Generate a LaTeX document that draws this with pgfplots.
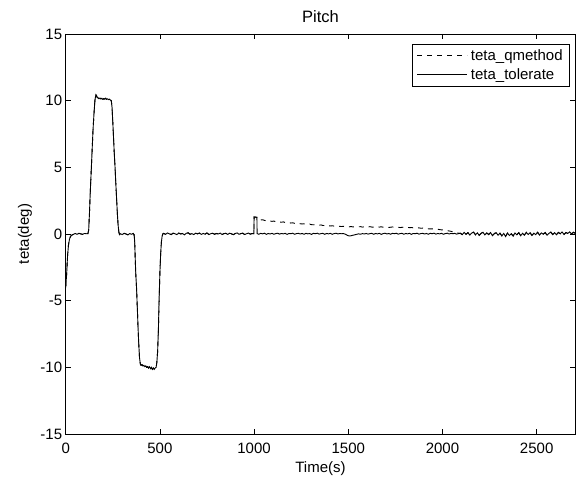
\documentclass[border=0pt]{standalone}
\usepackage{fontspec}
\setmainfont{Liberation Sans}
\usepackage{pgfplots}
\usepackage{pgfplotstable}
\pgfplotsset{compat=1.18}

\pgfplotstableread{
t tol qm
0 -4.0 -4.0
5 -3.0 -3.0
10 -1.6 -1.6
15 -0.8 -0.8
20 -0.4 -0.4
25 -0.2 -0.2
30 -0.1 -0.1
40 -0.03 -0.03
50 0.04 0.04
60 -0.02 -0.02
70 0.05 0.05
80 0.01 0.01
90 -0.03 -0.03
100 0.04 0.04
110 0.02 0.02
118 0.03 0.03
122 0.3 0.3
126 1.5 1.5
130 3.0 3.0
135 4.6 4.6
140 6.2 6.2
145 7.8 7.8
150 9.0 9.0
155 10.0 10.0
160 10.45 10.45
163 10.4 10.4
167 10.25 10.25
172 10.2 10.2
177 10.15 10.15
182 10.2 10.2
187 10.12 10.12
192 10.18 10.18
197 10.1 10.1
202 10.15 10.15
207 10.12 10.12
212 10.18 10.18
217 10.1 10.1
222 10.14 10.14
227 10.08 10.08
232 10.12 10.12
237 10.05 10.05
242 10.0 10.0
246 9.5 9.5
250 8.4 8.4
254 7.2 7.2
258 6.0 6.0
262 5.0 5.0
266 3.8 3.8
270 2.7 2.7
274 1.6 1.6
278 0.7 0.7
282 0.15 0.15
286 -0.05 -0.05
290 0.02 0.02
300 -0.04 -0.04
310 0.05 0.05
320 0.0 0.0
330 -0.06 -0.06
340 0.03 0.03
350 -0.02 -0.02
358 0.04 0.04
363 -0.05 -0.05
366 -0.5 -0.5
369 -1.8 -1.8
372 -3.0 -3.0
376 -4.0 -4.0
380 -5.5 -5.5
384 -7.0 -7.0
388 -8.3 -8.3
392 -9.3 -9.3
396 -9.75 -9.75
400 -9.85 -9.85
405 -9.8 -9.8
410 -9.9 -9.9
415 -9.85 -9.85
420 -9.95 -9.95
425 -9.9 -9.9
430 -10.0 -10.0
435 -9.95 -9.95
440 -10.05 -10.05
445 -9.95 -9.95
450 -10.1 -10.1
455 -10.0 -10.0
460 -10.15 -10.15
465 -10.05 -10.05
470 -10.15 -10.15
475 -10.05 -10.05
480 -10.0 -10.0
484 -9.6 -9.6
488 -8.8 -8.8
492 -7.2 -7.2
496 -4.8 -4.8
500 -2.9 -2.9
504 -1.5 -1.5
508 -0.6 -0.6
512 -0.15 -0.15
516 0.02 0.02
520 0.05 0.05
530 -0.03 -0.03
540 0.08 0.08
550 0.01 0.01
560 -0.04 -0.04
570 0.06 0.06
580 0.02 0.02
590 -0.05 -0.05
600 0.07 0.07
610 0.0 0.0
620 0.04 0.04
630 -0.06 -0.06
640 0.05 0.05
650 0.09 0.09
660 -0.02 -0.02
670 0.03 0.03
680 -0.04 -0.04
690 0.06 0.06
700 0.01 0.01
710 0.07 0.07
720 -0.03 -0.03
730 0.04 0.04
740 -0.01 -0.01
750 0.08 0.08
760 -0.05 -0.05
770 0.02 0.02
780 0.06 0.06
790 -0.02 -0.02
800 0.04 0.04
810 0.0 0.0
820 0.07 0.07
830 -0.04 -0.04
840 0.03 0.03
850 0.05 0.05
860 -0.03 -0.03
870 0.06 0.06
880 0.01 0.01
890 -0.05 -0.05
900 0.04 0.04
910 0.08 0.08
920 -0.02 -0.02
930 0.03 0.03
940 0.06 0.06
950 -0.04 -0.04
960 0.02 0.02
970 0.07 0.07
980 -0.01 -0.01
990 0.04 0.04
999 0.02 0.02
1000 1.28 1.28
1015 1.25 1.25
1016 0.03 1.15
1025 -0.02 1.08
1035 0.05 1.05
1045 0.01 1.07
1055 0.06 1.02
1065 -0.03 1.0
1075 0.04 1.03
1085 0.0 0.97
1095 0.05 0.95
1105 -0.02 0.97
1115 0.03 0.92
1125 0.06 0.94
1135 -0.01 0.9
1145 0.04 0.88
1155 0.01 0.91
1165 0.05 0.86
1175 -0.03 0.85
1185 0.04 0.87
1195 0.02 0.82
1205 0.06 0.84
1215 -0.02 0.8
1225 0.03 0.79
1235 0.05 0.81
1245 0.0 0.77
1255 0.04 0.75
1265 -0.02 0.77
1275 0.05 0.73
1285 0.01 0.72
1295 0.04 0.74
1305 -0.03 0.7
1315 0.05 0.69
1325 0.02 0.71
1335 0.06 0.67
1345 -0.01 0.66
1355 0.03 0.68
1365 0.05 0.64
1375 -0.02 0.63
1385 0.04 0.65
1395 0.01 0.62
1405 0.05 0.6
1415 -0.02 0.62
1425 0.03 0.59
1435 0.06 0.58
1445 0.0 0.6
1455 0.04 0.57
1465 0.02 0.56
1475 0.03 0.58
1485 -0.02 0.55
1495 -0.1 0.56
1505 -0.15 0.54
1515 -0.13 0.56
1525 -0.09 0.53
1535 -0.06 0.55
1545 -0.02 0.52
1555 0.01 0.54
1565 -0.02 0.55
1575 0.03 0.52
1585 0.0 0.54
1595 0.04 0.51
1605 -0.01 0.53
1615 0.03 0.55
1625 0.05 0.52
1635 -0.02 0.51
1645 0.04 0.53
1655 0.01 0.5
1665 0.05 0.52
1675 -0.03 0.54
1685 0.03 0.51
1695 0.06 0.5
1705 0.0 0.52
1715 0.04 0.49
1725 -0.02 0.51
1735 0.05 0.53
1745 0.02 0.5
1755 0.06 0.49
1765 -0.01 0.51
1775 0.03 0.48
1785 0.05 0.5
1795 -0.02 0.52
1805 0.04 0.49
1815 0.01 0.5
1825 0.05 0.47
1835 -0.03 0.49
1845 0.04 0.46
1855 0.02 0.48
1865 0.06 0.45
1875 -0.01 0.46
1885 0.03 0.43
1895 0.05 0.44
1905 0.0 0.41
1915 0.04 0.42
1925 -0.02 0.39
1935 0.05 0.38
1945 0.02 0.39
1955 0.06 0.36
1965 -0.01 0.35
1975 0.04 0.36
1985 0.01 0.33
1995 0.05 0.31
2005 -0.02 0.3
2015 0.03 0.28
2025 0.06 0.25
2035 0.0 0.23
2045 0.04 0.2
2055 0.02 0.16
2065 0.05 0.13
2075 -0.01 0.1
2085 0.03 0.06
2095 0.06 0.06
2105 -0.05 -0.05
2115 0.12 0.12
2125 -0.02 -0.02
2135 0.1 0.1
2145 -0.08 -0.08
2155 0.07 0.07
2165 0.14 0.14
2175 -0.06 -0.06
2185 0.09 0.09
2195 -0.1 -0.1
2205 0.05 0.05
2215 0.13 0.13
2225 -0.07 -0.07
2235 0.08 0.08
2245 -0.04 -0.04
2255 0.11 0.11
2265 -0.12 -0.12
2275 0.03 0.03
2285 0.1 0.1
2295 -0.09 -0.09
2305 0.06 0.06
2315 -0.14 -0.14
2325 0.04 0.04
2335 -0.18 -0.18
2345 0.07 0.07
2355 -0.11 -0.11
2365 0.02 0.02
2375 -0.15 -0.15
2385 0.08 0.08
2395 -0.06 -0.06
2405 0.1 0.1
2415 -0.13 -0.13
2425 0.05 0.05
2435 -0.08 -0.08
2445 0.12 0.12
2455 -0.04 -0.04
2465 0.09 0.09
2475 -0.1 -0.1
2485 0.06 0.06
2495 -0.05 -0.05
2505 0.13 0.13
2515 -0.07 -0.07
2525 0.08 0.08
2535 -0.02 -0.02
2545 0.11 0.11
2555 -0.09 -0.09
2565 0.05 0.05
2575 0.14 0.14
2585 -0.04 -0.04
2595 0.1 0.1
2605 -0.06 -0.06
2615 0.12 0.12
2625 0.02 0.02
2635 0.15 0.15
2645 -0.03 -0.03
2655 0.11 0.11
2665 0.04 0.04
2675 0.16 0.16
2685 0.0 0.0
2695 0.13 0.13
2705 0.05 0.05
}\pitchdata

\begin{document}
\begin{tikzpicture}
\begin{axis}[
  name=ax,
  scale only axis,
  width=509.6pt, height=400pt,
  xmin=0, xmax=2705, ymin=-15, ymax=15,
  xtick={0,500,1000,1500,2000,2500},
  ytick={-15,-10,-5,0,5,10,15},
  tick align=inside,
  xtick pos=both, ytick pos=both,
  major tick length=5pt,
  axis line style={line width=0.8pt},
  every tick/.style={black, line width=0.7pt},
  /pgf/number format/assume math mode=true,
  /pgf/number format/1000 sep={},
  tick label style={font=\fontsize{15}{18}\selectfont},
  xticklabel style={anchor=base, yshift=-19pt},
  title={Pitch},
  title style={font=\fontsize{16.5}{19}\selectfont, at={(axis description cs:0.5,1)}, anchor=base, yshift=5.3pt},
  xlabel={Time(s)},
  xlabel style={font=\fontsize{15}{18}\selectfont, at={(axis description cs:0.5,0)}, anchor=base, yshift=-38pt},
  ylabel={teta(deg)},
  ylabel style={font=\fontsize{15}{18}\selectfont, at={(axis description cs:-0.0799,0.5)}, anchor=center},
  legend style={at={(axis description cs:1,1)}, anchor=north east, xshift=-5.3pt, yshift=-10pt,
    draw=black, line width=0.7pt, font=\fontsize{15}{18}\selectfont,
    inner xsep=5pt, inner ysep=3pt, row sep=3pt, column sep=1pt,
    nodes={inner sep=2pt}},
  legend cell align=left,
  legend image code/.code={\draw[#1] (0pt,0pt) -- (50pt,0pt);},
]
\addplot[black, line width=0.9pt, dash pattern=on 5pt off 5pt] table[x=t, y=qm] {\pitchdata};
\addlegendentry{teta\_qmethod}
\addplot[black, line width=0.9pt] table[x=t, y=tol] {\pitchdata};
\addlegendentry{teta\_tolerate}
\end{axis}
\pgfresetboundingbox
\useasboundingbox ([xshift=-65.7pt,yshift=-43pt]ax.south west) rectangle ([xshift=0.7pt,yshift=34pt]ax.north east);
\end{tikzpicture}
\end{document}
